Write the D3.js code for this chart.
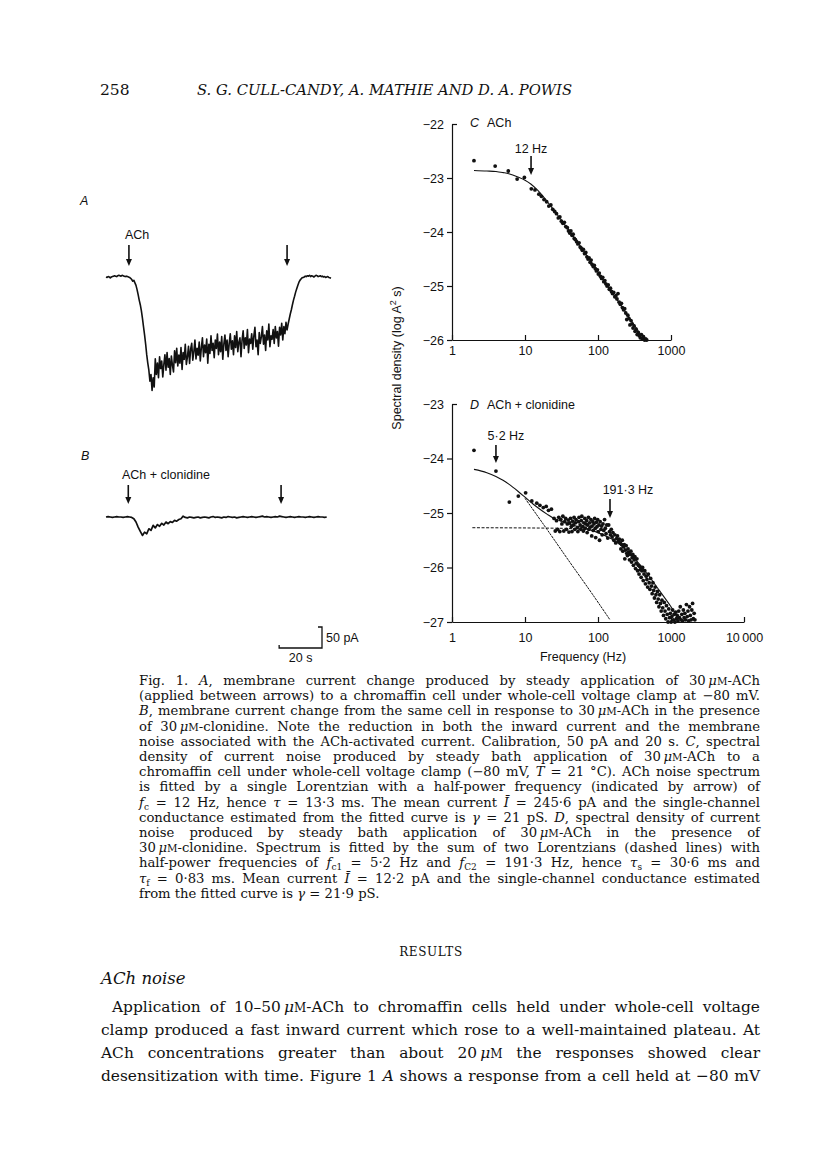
<!DOCTYPE html>
<html>
<head>
<meta charset="utf-8">
<script src="https://cdn.jsdelivr.net/npm/d3@7"></script>
<style>
body { margin: 0; background: #fff; }
.ax path, .ax line { stroke: #111; stroke-width: 1.2; }
.ax text { font-family: "Liberation Sans", Arial, sans-serif; font-size: 12.5px; fill: #111; }
.lab { font-family: "Liberation Sans", Arial, sans-serif; font-size: 12.5px; fill: #111; }
.serif { font-family: "DejaVu Serif", serif; fill: #111; }
</style>
</head>
<body>
<div class="container"></div>
<script>
////////////////////////////////////////////////////////////////
// DATA
////////////////////////////////////////////////////////////////
// trace A: ACh, membrane current (pA), one value every 0.5 s
var stepA = 0.5;
var traceA = [0,-1,1,0,-2,0,1,2,3,2,1,3,4,3,2,4,3,2,1,2,1,0,-1,-3,-6,-10,
  -8,-14,-20,-30,-42,-55,-66,-80,-98,-118,-138,-160,-185,-205,-222,
  -248,-232,-270,-240,-262,
  -195,-232,-205,-240,-190,-218,-200,-238,-208,-185,
  -222,-180,-215,-194,-232,-188,-210,-226,-176,-204,
  -170,-212,-186,-205,-168,-220,-180,-196,-160,-208,
  -190,-165,-206,-172,-158,-198,-178,-150,-195,-170,
  -186,-155,-200,-168,-145,-190,-162,-180,-148,-205,
  -160,-182,-140,-175,-158,-192,-150,-170,-136,-185,
  -155,-178,-142,-196,-160,-138,-175,-150,-190,-158,
  -135,-172,-152,-185,-140,-168,-130,-178,-155,-145,
  -190,-150,-128,-170,-145,-162,-125,-180,-148,-158,
  -135,-172,-140,-120,-166,-150,-185,-132,-158,-142,
  -118,-160,-138,-175,-128,-150,-112,-166,-140,-148,
  -125,-158,-118,-145,-130,-165,-120,-138,-110,-150,
  -118,-135,-108,-126,
  -112,-100,-88,-78,-66,-55,-46,-36,-28,-20,-13,-8,-5,-2,-1,
  0,2,1,3,2,4,1,3,2,0,2,4,3,1,2,3,1,2,0,1,-1,0,1,-1,-2,-3];
var arrowsA = [10.7, 84.5]; // s

// trace B: ACh + clonidine, one value every 1 s
var stepB = 1;
var traceB = [0,1,0,-1,0,1,0,0,-1,0,1,0,-1,
  -4,-12,-24,-34,-44,-36,-40,-28,-32,-20,-26,-18,-22,-15,-19,-12,-16,-11,-13,-8,-10,-6,-4,2,
  -1,-2,0,-1,-2,-1,0,-2,-1,0,
  -1,-2,0,1,-1,0,-1,-2,0,-1,
  1,0,-1,0,-2,-1,0,1,0,-1,
  0,1,0,-1,0,1,2,0,1,0,
  -1,0,1,0,2,1,0,-1,0,1,
  0,-1,0,1,0,0,-1,0,1,0,
  -1,0,1,0,0,-1,0];
var arrowsB = [10.4, 81.7];

// C: spectrum, ACh  [frequency Hz, log spectral density]
var pointsC = [[2.0,-22.68],[3.9,-22.78],[5.9,-22.87],[7.8,-23.02],[9.8,-22.99],[12.2,-23.20],[13.7,-23.22],[15.5,-23.30],[16.8,-23.34],[18.2,-23.40],[19.8,-23.44],[21.2,-23.52],[22.6,-23.50],[24,-23.58],[25.5,-23.62],[27,-23.66],[28.6,-23.74],[30,-23.72],[31.5,-23.80],[33,-23.84],[34.6,-23.82],[36.2,-23.90],[38,-23.92],[39.5,-23.98],[41,-24.02],[42.5,-23.98],[44,-24.06],[45.6,-24.04],[47.3,-24.12],[49,-24.14],[51,-24.18],[53,-24.22],[55,-24.20],[57,-24.28],[59,-24.30],[61,-24.34],[63,-24.32],[65.5,-24.40],[68,-24.38],[70.5,-24.46],[73,-24.50],[75.5,-24.48],[78,-24.56],[80.5,-24.52],[83,-24.60],[86,-24.64],[89,-24.62],[92,-24.68],[95,-24.72],[98,-24.70],[101,-24.78],[104,-24.76],[108,-24.82],[112,-24.86],[116,-24.84],[120,-24.92],[124,-24.90],[128,-24.96],[133,-25.00],[138,-24.98],[143,-25.06],[148,-25.04],[153,-25.10],[158,-25.14],[164,-25.12],[170,-25.20],[176,-25.18],[182,-25.24],[188,-25.14],[195,-25.30],[202,-25.34],[209,-25.32],[216,-25.40],[224,-25.44],[232,-25.42],[240,-25.50],[248,-25.62],[256,-25.54],[265,-25.60],[274,-25.72],[283,-25.64],[292,-25.70],[302,-25.78],[312,-25.74],[322,-25.84],[333,-25.80],[344,-25.90],[356,-25.86],[368,-25.92],[380,-25.96],[393,-25.90],[406,-25.98],[420,-25.94],[435,-26.0],[450,-25.98],[465,-26.0]];
var fitC = [[2,-22.86],[3,-22.87],[4,-22.88],[5,-22.90],[6,-22.92],[8,-22.98],[10,-23.04],[12,-23.11],[15,-23.23],[20,-23.43],[25,-23.60],[30,-23.74],[40,-23.97],[50,-24.15],[70,-24.43],[100,-24.74],[150,-25.09],[200,-25.33],[300,-25.68],[400,-25.93],[455,-26.0]];
var arrowC = {f: 12.1, label: "12 Hz"};

// D: spectrum, ACh + clonidine
var pointsD = [[2.0,-23.85],[4.0,-24.23],[6.1,-24.80],[8.1,-24.69],[10.2,-24.63],[12.4,-24.78],[14.5,-24.82],[16,-24.86],[17.8,-24.90],[19.5,-24.88],[21,-24.95],[23,-24.93],
  [25,-25.10],[26,-25.33],[27,-25.14],[28,-25.30],[29,-25.08],[30,-25.34],[31,-25.12],[32,-25.20],[33,-25.06],[34,-25.33],[35,-25.16],[36,-25.10],[37,-25.30],[38,-25.20],[39,-25.13],[40,-25.35],[41,-25.18],[42,-25.10],[43,-25.25],[44,-25.34],[45,-25.15],[46,-25.22],[47,-25.08],[48,-25.30],[49,-25.18],[50,-25.12],[52,-25.27],[53,-25.34],[54,-25.16],[55,-25.08],[57,-25.22],[58,-25.30],[59,-25.14],[60,-25.06],[62,-25.25],[63,-25.33],[64,-25.18],[66,-25.10],[67,-25.28],[68,-25.20],[70,-25.14],[71,-25.36],[72,-25.22],[74,-25.08],[75,-25.30],[77,-25.18],[78,-25.26],[80,-25.12],[82,-25.42],[83,-25.24],[85,-25.16],[86,-25.32],[88,-25.20],[90,-25.10],[92,-25.28],[93,-25.45],[95,-25.17],[97,-25.25],[99,-25.12],[101,-25.34],[103,-25.22],[105,-25.50],[107,-25.16],[110,-25.30],[112,-25.24],[114,-25.40],[117,-25.20],[120,-25.32],[123,-25.12],[126,-25.28],[129,-25.38],[132,-25.22],[136,-25.46],[140,-25.22],[144,-25.34],[148,-25.40],[152,-25.30],[156,-25.44],[160,-25.36],[165,-25.50],[170,-25.40],[175,-25.55],[180,-25.47],[185,-25.42],[190,-25.52],[196,-25.48],
  [202,-25.55],[206,-25.66],[211,-25.58],[215,-25.50],[219,-25.70],[224,-25.62],[229,-25.58],[233,-25.84],[238,-25.68],[243,-25.60],[248,-25.74],[253,-25.78],[258,-25.66],[264,-25.72],[270,-25.86],[276,-25.76],[282,-25.70],[288,-25.90],[294,-25.82],[300,-25.76],[306,-25.96],[313,-25.86],[320,-25.80],[327,-26.02],[334,-25.92],[341,-25.84],[349,-26.06],[357,-25.96],[365,-26.12],[373,-25.98],[381,-26.04],[390,-26.18],[399,-26.06],[408,-26.00],[417,-26.24],[427,-26.12],[437,-26.06],[447,-26.30],[457,-26.16],[468,-26.22],[479,-26.36],[490,-26.12],[502,-26.28],[514,-26.40],[526,-26.20],[539,-26.34],[552,-26.48],[565,-26.28],[579,-26.42],[593,-26.56],[607,-26.36],[622,-26.50],[637,-26.64],[652,-26.44],[668,-26.58],[684,-26.72],[700,-26.50],[717,-26.66],[734,-26.80],[752,-26.60],[770,-26.74],[789,-26.88],[808,-26.64],[828,-26.80],[848,-26.94],[868,-26.70],[889,-26.86],[911,-27.0],[933,-26.76],[956,-26.92],[979,-26.84],[1003,-27.0],[1027,-26.90],[1052,-26.78],[1078,-26.96],[1104,-26.86],[1131,-27.0],[1159,-26.82],[1187,-26.94],[1216,-26.88],[1246,-26.98],[1277,-26.80],[1308,-26.92],[1340,-26.72],[1373,-26.96],[1407,-26.86],[1441,-26.98],[1477,-26.78],[1513,-26.92],[1550,-26.84],[1588,-26.96],[1627,-26.68],[1667,-26.90],[1708,-26.80],[1750,-26.98],[1793,-26.72],[1837,-26.88],[1882,-26.96],[1928,-26.78],[1976,-26.66],[2024,-26.94],[2074,-26.84],[2125,-26.96]];
var fitD = [[2,-24.20],[3,-24.26],[4,-24.33],[5,-24.40],[6,-24.47],[8,-24.60],[10,-24.71],[13,-24.84],[16,-24.93],[20,-25.02],[25,-25.10],[30,-25.14],[40,-25.20],[50,-25.24],[70,-25.29],[100,-25.36],[150,-25.47],[200,-25.58],[300,-25.80],[500,-26.16],[700,-26.43],[1000,-26.72],[1300,-26.96]];
var slowD = [[10,-24.73],[20,-25.30],[40,-25.88],[80,-26.45],[146,-26.96]];
var fastD = [[1.9,-25.27],[30,-25.28],[100,-25.33]];
var arrowsD = [{f: 4.0, label: "5·2 Hz"}, {f: 146, label: "191·3 Hz"}];

var ticksC = [-22,-23,-24,-25,-26];
var ticksD = [-23,-24,-25,-26,-27];
var freqC = [1,10,100,1000];
var freqD = [1,10,100,1000,10000];

// text of the page
var caption = [
  "Fig. 1. *A*, membrane current change produced by steady application of 30\u2009*μ*^M^-ACh",
  "(applied between arrows) to a chromaffin cell under whole-cell voltage clamp at −80 mV.",
  "*B*, membrane current change from the same cell in response to 30\u2009*μ*^M^-ACh in the presence",
  "of 30\u2009*μ*^M^-clonidine. Note the reduction in both the inward current and the membrane",
  "noise associated with the ACh-activated current. Calibration, 50 pA and 20 s. *C*, spectral",
  "density of current noise produced by steady bath application of 30\u2009*μ*^M^-ACh to a",
  "chromaffin cell under whole-cell voltage clamp (−80 mV, *T* = 21 °C). ACh noise spectrum",
  "is fitted by a single Lorentzian with a half-power frequency (indicated by arrow) of",
  "*f*_c_ = 12 Hz, hence *τ* = 13·3 ms. The mean current *Ī* = 245·6 pA and the single-channel",
  "conductance estimated from the fitted curve is *γ* = 21 pS. *D*, spectral density of current",
  "noise produced by steady bath application of 30\u2009*μ*^M^-ACh in the presence of",
  "30\u2009*μ*^M^-clonidine. Spectrum is fitted by the sum of two Lorentzians (dashed lines) with",
  "half-power frequencies of *f*_c1_ = 5·2 Hz and *f*_C2_ = 191·3 Hz, hence *τ*_s_ = 30·6 ms and",
  "*τ*_f_ = 0·83 ms. Mean current *Ī* = 12·2 pA and the single-channel conductance estimated",
  "from the fitted curve is *γ* = 21·9 pS."
];
var bodyText = [
  "Application of 10–50\u2009*μ*^M^-ACh to chromaffin cells held under whole-cell voltage",
  "clamp produced a fast inward current which rose to a well-maintained plateau. At",
  "ACh concentrations greater than about 20\u2009*μ*^M^ the responses showed clear",
  "desensitization with time. Figure 1 *A* shows a response from a cell held at −80 mV"
];

////////////////////////////////////////////////////////////////
// STAGE
////////////////////////////////////////////////////////////////
var svg = d3.select(".container").append("svg")
  .attr("width", 816).attr("height", 1163);
svg.append("rect").attr("width", 816).attr("height", 1163).attr("fill", "#fff");

////////////////////////////////////////////////////////////////
// HELPERS
////////////////////////////////////////////////////////////////
function drawArrow(x, y0, y1) {
  svg.append("line").attr("x1", x).attr("x2", x).attr("y1", y0).attr("y2", y1 - 5)
    .attr("stroke", "#111").attr("stroke-width", 1.6);
  svg.append("path")
    .attr("d", "M" + (x - 3) + "," + (y1 - 7) + "L" + (x + 3) + "," + (y1 - 7) + "L" + x + "," + y1 + "Z")
    .attr("fill", "#111");
}

function richText(str, x, y, size) {
  var t = svg.append("text").attr("class", "serif").attr("x", x).attr("y", y)
    .style("font-size", size + "px");
  var parts = str.split(/(\*[^*]+\*|\^[^\^]+\^|_[^_]+_)/).filter(function(s) { return s.length; });
  var shift = 0;
  parts.forEach(function(p) {
    var ts = t.append("tspan"), txt = p, dy = 0;
    if (p[0] == "*") { txt = p.slice(1, -1); ts.style("font-style", "italic"); }
    else if (p[0] == "^") { txt = p.slice(1, -1); ts.style("font-size", (size * 0.78) + "px"); }
    else if (p[0] == "_") { txt = p.slice(1, -1); ts.style("font-size", (size * 0.68) + "px"); dy = 3; }
    if (dy - shift != 0) ts.attr("dy", dy - shift);
    shift = dy;
    ts.text(txt);
  });
  return t;
}

function justify(t, width) {
  var w = t.node().getComputedTextLength();
  var n = (t.text().match(/ /g) || []).length;
  if (n) t.style("word-spacing", ((width - w) / n) + "px");
}

function minus(d) { return d < 0 ? "−" + Math.abs(d) : d; }

////////////////////////////////////////////////////////////////
// PAGE HEADER
////////////////////////////////////////////////////////////////
svg.append("text").attr("class", "serif").attr("x", 100).attr("y", 95)
  .style("font-size", "15.5px").text("258");
svg.append("text").attr("class", "serif").attr("x", 197).attr("y", 95)
  .style("font-size", "14.5px").style("font-style", "italic")
  .attr("textLength", 375).attr("lengthAdjust", "spacingAndGlyphs")
  .text("S. G. CULL-CANDY, A. MATHIE AND D. A. POWIS");

////////////////////////////////////////////////////////////////
// TRACES A AND B
////////////////////////////////////////////////////////////////
var xT = d3.scaleLinear().domain([0, 105]).range([106, 331]); // 20 s = 43 px
var yA = d3.scaleLinear().domain([-300, 0]).range([403, 277]); // 50 pA = 21 px
var yB = d3.scaleLinear().domain([-300, 0]).range([643, 517]);

var lineA = d3.line().x(function(d, i) { return xT(i * stepA); }).y(function(d) { return yA(d); });
var lineB = d3.line().x(function(d, i) { return xT(i * stepB); }).y(function(d) { return yB(d); });

svg.append("path").datum(traceA).attr("d", lineA)
  .attr("fill", "none").attr("stroke", "#111").attr("stroke-width", 1.6).attr("stroke-linejoin", "round");
svg.append("path").datum(traceB).attr("d", lineB)
  .attr("fill", "none").attr("stroke", "#111").attr("stroke-width", 1.7).attr("stroke-linejoin", "round");

svg.append("text").attr("class", "lab").attr("x", 80).attr("y", 205)
  .style("font-style", "italic").text("A");
svg.append("text").attr("class", "lab").attr("x", 81).attr("y", 460)
  .style("font-style", "italic").text("B");

svg.append("text").attr("class", "lab").attr("x", xT(arrowsA[0]) - 4).attr("y", 239).text("ACh");
arrowsA.forEach(function(t) { drawArrow(xT(t), 245, 266); });

svg.append("text").attr("class", "lab").attr("x", 122).attr("y", 479).text("ACh + clonidine");
arrowsB.forEach(function(t) { drawArrow(xT(t), 485, 504); });

// calibration bars 50 pA, 20 s
var calX = 322, calY = 648;
var calW = xT(20) - xT(0), calH = yA(-50) - yA(0);
svg.append("path")
  .attr("d", "M" + (calX - calW) + "," + (calY - 3) + "V" + calY + "H" + calX + "V" + (calY - calH) + "H" + (calX - 4))
  .attr("fill", "none").attr("stroke", "#111").attr("stroke-width", 1.3);
svg.append("text").attr("class", "lab").attr("x", calX + 4).attr("y", calY - 6).text("50 pA");
svg.append("text").attr("class", "lab").attr("x", calX - calW / 2).attr("y", calY + 14)
  .attr("text-anchor", "middle").text("20 s");

////////////////////////////////////////////////////////////////
// SPECTRA C AND D
////////////////////////////////////////////////////////////////
var xC = d3.scaleLog().domain([1, 1000]).range([452, 671]);
var yC = d3.scaleLinear().domain([-26, -22]).range([340, 124]);
var xD = d3.scaleLog().domain([1, 10000]).range([452, 744]);
var yD = d3.scaleLinear().domain([-27, -23]).range([622, 404]);

function drawAxes(x, y, yt, xt, xFmt, pad) {
  var gy = svg.append("g").attr("class", "ax").attr("transform", "translate(" + x.range()[0] + ",0)")
    .call(d3.axisLeft(y).tickValues(yt).tickFormat(minus).tickSizeInner(5).tickSizeOuter(0).tickPadding(3));
  // top tick turns inwards
  gy.selectAll(".tick").filter(function(d) { return d == yt[0]; }).select("line").attr("x2", 5);
  svg.append("g").attr("class", "ax").attr("transform", "translate(0," + y.range()[0] + ")")
    .call(d3.axisBottom(x).tickValues(xt).tickFormat(xFmt).tickSizeInner(-5).tickSizeOuter(0).tickPadding(pad));
}

drawAxes(xC, yC, ticksC, freqC, function(d) { return d; }, 6);
drawAxes(xD, yD, ticksD, freqD, function(d) { return d == 10000 ? "10\u2009000" : d; }, 11);

var lineC = d3.line().x(function(d) { return xC(d[0]); }).y(function(d) { return yC(d[1]); }).curve(d3.curveMonotoneX);
var lineD = d3.line().x(function(d) { return xD(d[0]); }).y(function(d) { return yD(d[1]); }).curve(d3.curveMonotoneX);

svg.append("path").datum(fitC).attr("d", lineC).attr("fill", "none").attr("stroke", "#111").attr("stroke-width", 1.1);
svg.selectAll(".ptC").data(pointsC).enter().append("circle").attr("class", "ptC")
  .attr("cx", function(d) { return xC(d[0]); }).attr("cy", function(d) { return yC(d[1]); })
  .attr("r", 1.9).attr("fill", "#111");

svg.append("path").datum(fastD).attr("d", lineD).attr("fill", "none").attr("stroke", "#111")
  .attr("stroke-width", 1).attr("stroke-dasharray", "3,1.6");
svg.append("path").datum(slowD).attr("d", lineD).attr("fill", "none").attr("stroke", "#111")
  .attr("stroke-width", 1).attr("stroke-dasharray", "2.5,0.8");
svg.append("path").datum(fitD).attr("d", lineD).attr("fill", "none").attr("stroke", "#111").attr("stroke-width", 1.1);
svg.selectAll(".ptD").data(pointsD).enter().append("circle").attr("class", "ptD")
  .attr("cx", function(d) { return xD(d[0]); }).attr("cy", function(d) { return yD(d[1]); })
  .attr("r", 1.9).attr("fill", "#111");

// panel titles
var tC = svg.append("text").attr("class", "lab").attr("x", 470).attr("y", 127);
tC.append("tspan").style("font-style", "italic").text("C");
tC.append("tspan").attr("dx", 8).text("ACh");
var tD = svg.append("text").attr("class", "lab").attr("x", 470).attr("y", 409);
tD.append("tspan").style("font-style", "italic").text("D");
tD.append("tspan").attr("dx", 8).text("ACh + clonidine");

// arrows on spectra
svg.append("text").attr("class", "lab").attr("x", xC(arrowC.f)).attr("y", 153)
  .attr("text-anchor", "middle").text(arrowC.label);
drawArrow(xC(arrowC.f), 156, 175);
svg.append("text").attr("class", "lab").attr("x", xD(arrowsD[0].f) + 10).attr("y", 440)
  .attr("text-anchor", "middle").text(arrowsD[0].label);
drawArrow(xD(arrowsD[0].f), 445, 463);
svg.append("text").attr("class", "lab").attr("x", xD(arrowsD[1].f) + 18).attr("y", 494)
  .attr("text-anchor", "middle").text(arrowsD[1].label);
drawArrow(xD(arrowsD[1].f), 499, 518);

// axis titles
svg.append("text").attr("class", "lab").attr("transform", "translate(401,358) rotate(-90)")
  .attr("text-anchor", "middle").html("Spectral density (log A<tspan dy='-5' font-size='9px'>2</tspan><tspan dy='5'> s)</tspan>");
svg.append("text").attr("class", "lab").attr("x", 583).attr("y", 661)
  .attr("text-anchor", "middle").text("Frequency (Hz)");

////////////////////////////////////////////////////////////////
// CAPTION AND RESULTS TEXT
////////////////////////////////////////////////////////////////
caption.forEach(function(s, i) {
  var t = richText(s, 139, 685 + i * 15.2, 13.2);
  if (i < caption.length - 1) justify(t, 621);
});

svg.append("text").attr("class", "serif").attr("x", 431).attr("y", 956)
  .attr("text-anchor", "middle").style("font-size", "12px").style("letter-spacing", "0.6px").text("RESULTS");
svg.append("text").attr("class", "serif").attr("x", 101).attr("y", 984)
  .style("font-size", "16.5px").style("font-style", "italic").text("ACh noise");

bodyText.forEach(function(s, i) {
  var x0 = i == 0 ? 112 : 101;
  var t = richText(s, x0, 1012 + i * 23, 15.4);
  justify(t, 760 - x0);
});
</script>
</body>
</html>
